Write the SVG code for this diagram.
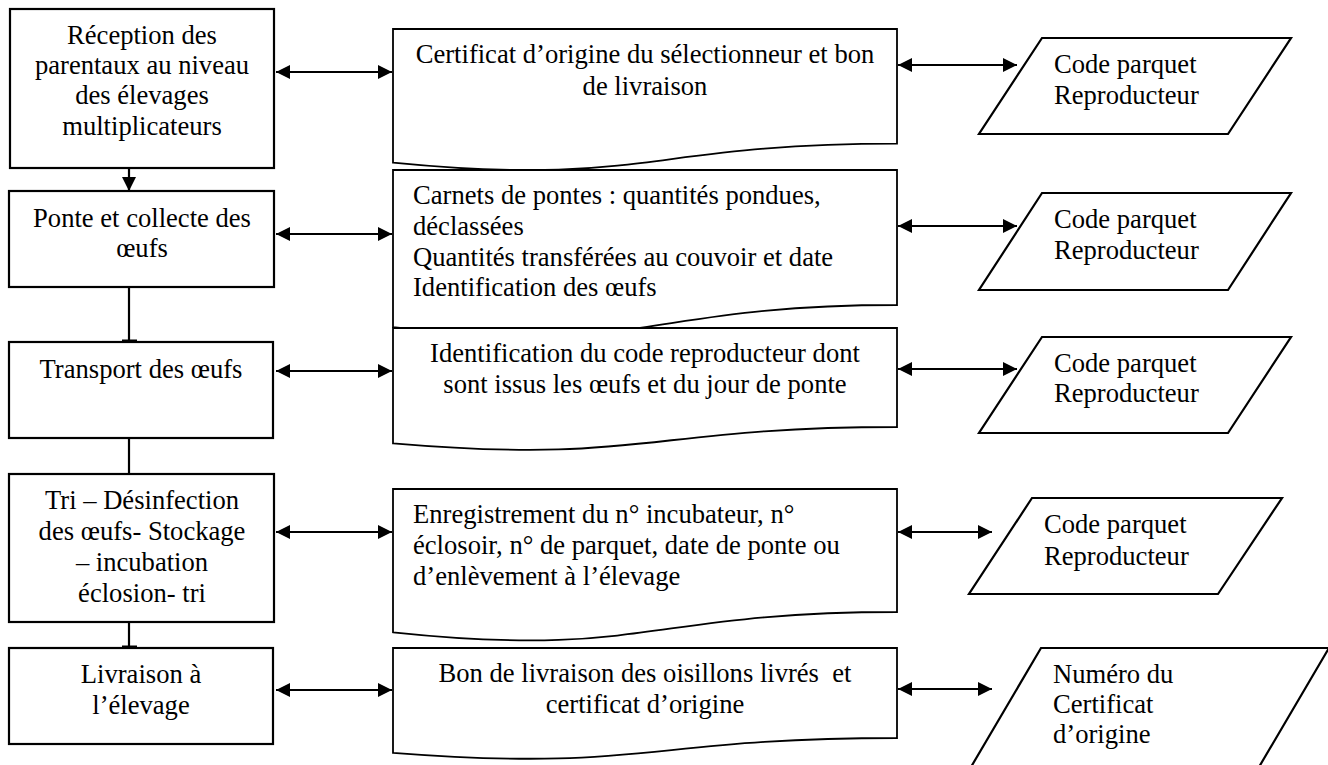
<svg xmlns="http://www.w3.org/2000/svg" width="1328" height="765" viewBox="0 0 1328 765">
<style>
.box{fill:#fff;stroke:#000;stroke-width:2.2}
.doc{fill:#fff;stroke:#000;stroke-width:1.8}
.t{font-family:"Liberation Serif","Times New Roman",serif;font-size:26.6px;fill:#000}
.c{text-anchor:middle}
.ln{stroke:#000;stroke-width:2.2;fill:none}
</style>
<defs>
<marker id="ah" viewBox="0 0 14 14" refX="14" refY="7" markerWidth="14" markerHeight="14" markerUnits="userSpaceOnUse" orient="auto-start-reverse">
<path d="M0,0 L14,7 L0,14 Z" fill="#000"/>
</marker>
</defs>
<rect width="1328" height="765" fill="#fff"/>

<g id="connectors">
<line class="ln" x1="129" y1="169" x2="129" y2="191" marker-end="url(#ah)"/>
<line class="ln" x1="129" y1="288" x2="129" y2="341"/>
<line class="ln" x1="122" y1="341" x2="137" y2="341" style="stroke-width:3"/>
<line class="ln" x1="129" y1="438" x2="129" y2="474"/>
<line class="ln" x1="129" y1="622" x2="129" y2="647"/>
<line class="ln" x1="122" y1="647" x2="137" y2="647" style="stroke-width:3"/>
<line class="ln" x1="276" y1="72" x2="392" y2="72" marker-start="url(#ah)" marker-end="url(#ah)"/>
<line class="ln" x1="276" y1="234" x2="392" y2="234" marker-start="url(#ah)" marker-end="url(#ah)"/>
<line class="ln" x1="276" y1="371" x2="392" y2="371" marker-start="url(#ah)" marker-end="url(#ah)"/>
<line class="ln" x1="276" y1="532" x2="392" y2="532" marker-start="url(#ah)" marker-end="url(#ah)"/>
<line class="ln" x1="276" y1="690" x2="392" y2="690" marker-start="url(#ah)" marker-end="url(#ah)"/>
<line class="ln" x1="898" y1="65" x2="1017" y2="65" marker-start="url(#ah)" marker-end="url(#ah)"/>
<line class="ln" x1="898" y1="226" x2="1017" y2="226" marker-start="url(#ah)" marker-end="url(#ah)"/>
<line class="ln" x1="898" y1="369" x2="1017" y2="369" marker-start="url(#ah)" marker-end="url(#ah)"/>
<line class="ln" x1="898" y1="532" x2="992" y2="532" marker-start="url(#ah)" marker-end="url(#ah)"/>
<line class="ln" x1="898" y1="689" x2="992" y2="689" marker-start="url(#ah)" marker-end="url(#ah)"/>
</g>

<g id="step1">
<rect class="box" x="10" y="9" width="264" height="159"/>
<text class="t c" x="142" y="44">Réception des</text>
<text class="t c" x="142" y="74">parentaux au niveau</text>
<text class="t c" x="142" y="104">des élevages</text>
<text class="t c" x="142" y="135">multiplicateurs</text>
</g>
<g id="step2">
<rect class="box" x="9" y="191" width="265" height="96"/>
<text class="t c" x="142" y="227">Ponte et collecte des</text>
<text class="t c" x="142" y="257">œufs</text>
</g>
<g id="step3">
<rect class="box" x="9" y="342" width="264" height="96"/>
<text class="t c" x="141" y="378">Transport des œufs</text>
</g>
<g id="step4">
<rect class="box" x="9" y="474" width="265" height="148"/>
<text class="t c" x="142" y="509">Tri – Désinfection</text>
<text class="t c" x="142" y="540">des œufs- Stockage</text>
<text class="t c" x="142" y="571">– incubation</text>
<text class="t c" x="142" y="602">éclosion- tri</text>
</g>
<g id="step5">
<rect class="box" x="9" y="648" width="264" height="96"/>
<text class="t c" x="141" y="683">Livraison à</text>
<text class="t c" x="141" y="714">l’élevage</text>
</g>

<g id="doc1">
<path class="doc" d="M393,29 H897 V143.7 C645,143.7 645,187.4 393,162.6 Z"/>
<text class="t c" x="645" y="63">Certificat d’origine du sélectionneur et bon</text>
<text class="t c" x="645" y="95">de livraison</text>
</g>
<g id="doc2">
<path class="doc" d="M393,170 H897 V305 C645,305 645,356.4 393,327.2 Z"/>
<text class="t" x="413" y="204">Carnets de pontes : quantités pondues,</text>
<text class="t" x="413" y="235">déclassées</text>
<text class="t" x="413" y="266">Quantités transférées au couvoir et date</text>
<text class="t" x="413" y="296">Identification des œufs</text>
</g>
<g id="doc3">
<path class="doc" d="M393,328 H897 V427 C645,427 645,464.7 393,443.3 Z"/>
<text class="t c" x="645" y="362">Identification du code reproducteur dont</text>
<text class="t c" x="645" y="393">sont issus les œufs et du jour de ponte</text>
</g>
<g id="doc4">
<path class="doc" d="M393,489 H897 V612 C645,612 645,658.9 393,632.3 Z"/>
<text class="t" x="413" y="523">Enregistrement du n° incubateur, n°</text>
<text class="t" x="413" y="554">éclosoir, n° de parquet, date de ponte ou</text>
<text class="t" x="413" y="585">d’enlèvement à l’élevage</text>
</g>
<g id="doc5">
<path class="doc" d="M393,648 H897 V738 C645,738 645,772.3 393,752.8 Z"/>
<text class="t c" x="645" y="682" style="white-space:pre">Bon de livraison des oisillons livrés  et</text>
<text class="t c" x="645" y="713">certificat d’origine</text>
</g>

<g id="data1">
<polygon class="box" points="1042,38 1291,38 1228,134 979,134"/>
<text class="t" x="1054" y="73">Code parquet</text>
<text class="t" x="1054" y="104">Reproducteur</text>
</g>
<g id="data2">
<polygon class="box" points="1042,193 1291,193 1228,290 979,290"/>
<text class="t" x="1054" y="228">Code parquet</text>
<text class="t" x="1054" y="259">Reproducteur</text>
</g>
<g id="data3">
<polygon class="box" points="1042,337 1291,337 1228,433 979,433"/>
<text class="t" x="1054" y="372">Code parquet</text>
<text class="t" x="1054" y="402">Reproducteur</text>
</g>
<g id="data4">
<polygon class="box" points="1032,498 1282,498 1218,594 969,594"/>
<text class="t" x="1044" y="533">Code parquet</text>
<text class="t" x="1044" y="565">Reproducteur</text>
</g>
<g id="data5">
<polygon class="box" points="1041,648 1329,648 1259,767 971,767"/>
<text class="t" x="1053" y="683">Numéro du</text>
<text class="t" x="1053" y="713">Certificat</text>
<text class="t" x="1053" y="743">d’origine</text>
</g>
</svg>
